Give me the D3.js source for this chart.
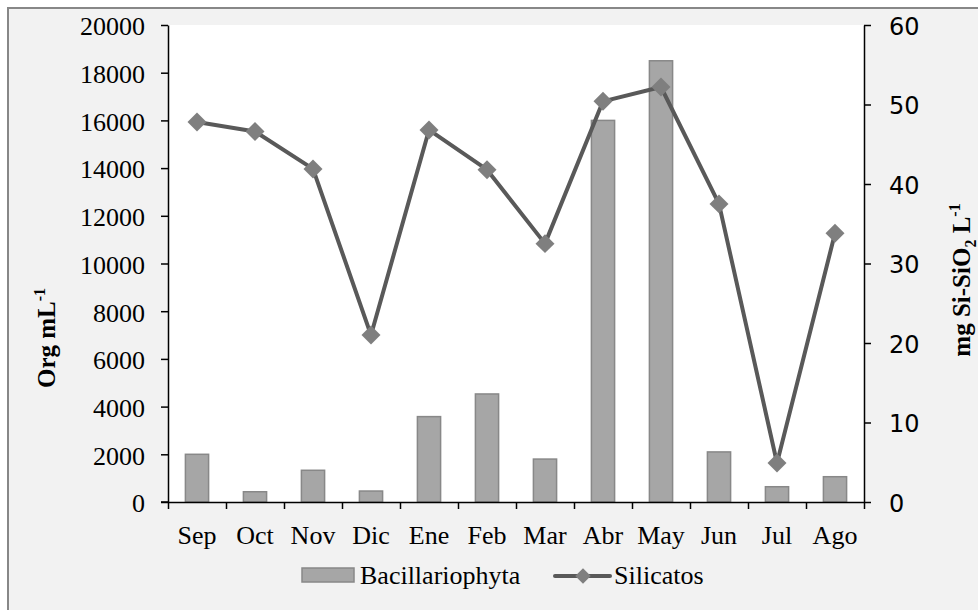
<!DOCTYPE html>
<html>
<head>
<meta charset="utf-8">
<script src="https://cdn.jsdelivr.net/npm/d3@7"></script>
<style>
  body { margin: 0; background: #fff; }
  svg { display: block; }
</style>
</head>
<body>
<div id="chart"></div>
<script>
// Data
const months = ["Sep", "Oct", "Nov", "Dic", "Ene", "Feb", "Mar", "Abr", "May", "Jun", "Jul", "Ago"];
const bacillariophyta = [2000, 430, 1330, 460, 3580, 4530, 1800, 16000, 18500, 2100, 640, 1060];
const silicatos = [47.8, 46.6, 41.9, 21.0, 46.8, 41.8, 32.5, 50.4, 52.2, 37.5, 4.9, 33.8];
const leftTicks = [0, 2000, 4000, 6000, 8000, 10000, 12000, 14000, 16000, 18000, 20000];
const rightTicks = [0, 10, 20, 30, 40, 50, 60];

const W = 978, H = 610;
const plot = { left: 168, right: 864, top: 25, bottom: 502 };
const serif = "'Liberation Serif', 'Times New Roman', serif";
const sans = "'DejaVu Sans', Verdana, sans-serif";

const svg = d3.select("#chart").append("svg")
    .attr("width", W)
    .attr("height", H);

// Chart area background + border
svg.append("rect")
    .attr("x", 8).attr("y", 8)
    .attr("width", W + 20).attr("height", H + 20)
    .attr("fill", "#f2f2f2")
    .attr("stroke", "#878787")
    .attr("stroke-width", 2);

// Plot area
svg.append("rect")
    .attr("x", plot.left).attr("y", plot.top)
    .attr("width", plot.right - plot.left)
    .attr("height", plot.bottom - plot.top)
    .attr("fill", "#fff");

// Scales
const x = d3.scaleBand()
    .domain(months)
    .range([plot.left, plot.right]);

const xTicks = d3.scaleLinear()
    .domain([0, months.length])
    .range([plot.left, plot.right]);

const yLeft = d3.scaleLinear()
    .domain([0, 20000])
    .range([plot.bottom, plot.top]);

const yRight = d3.scaleLinear()
    .domain([0, 60])
    .range([plot.bottom, plot.top]);

const barW = x.bandwidth() * 0.4;

// Bars
svg.selectAll(".bar")
    .data(months)
    .enter().append("rect")
    .attr("class", "bar")
    .attr("x", (d, i) => x(d) + x.bandwidth() / 2 - barW / 2)
    .attr("y", (d, i) => yLeft(bacillariophyta[i]))
    .attr("width", barW)
    .attr("height", (d, i) => plot.bottom - yLeft(bacillariophyta[i]))
    .attr("fill", "#a6a6a6")
    .attr("stroke", "#888")
    .attr("stroke-width", 1.5);

// Silicatos line
const line = d3.line()
    .x((d, i) => x(months[i]) + x.bandwidth() / 2)
    .y(d => yRight(d));

svg.append("path")
    .datum(silicatos)
    .attr("d", line)
    .attr("fill", "none")
    .attr("stroke", "#595959")
    .attr("stroke-width", 4)
    .attr("stroke-linejoin", "round");

const diamond = d3.symbol().type(d3.symbolSquare).size(180);

svg.selectAll(".marker")
    .data(silicatos)
    .enter().append("path")
    .attr("class", "marker")
    .attr("d", diamond)
    .attr("transform", (d, i) => `translate(${x(months[i]) + x.bandwidth() / 2},${yRight(d)}) rotate(45)`)
    .attr("fill", "#7f7f7f");

// Left axis
const gLeft = svg.append("g")
    .attr("transform", `translate(${plot.left},0)`)
    .call(d3.axisLeft(yLeft).tickValues(leftTicks).tickFormat(d3.format("d"))
        .tickSize(7).tickSizeOuter(0).tickPadding(16));

// Right axis
const gRight = svg.append("g")
    .attr("transform", `translate(${plot.right},0)`)
    .call(d3.axisRight(yRight).tickValues(rightTicks).tickFormat(d3.format("d"))
        .tickSize(7).tickSizeOuter(0).tickPadding(18));

// X axis (ticks between categories)
const gX = svg.append("g")
    .attr("transform", `translate(0,${plot.bottom})`)
    .call(d3.axisBottom(xTicks).ticks(months.length).tickSize(7).tickSizeOuter(0).tickFormat(""));

[gLeft, gRight, gX].forEach(g => {
    g.select(".domain").attr("stroke", "#000").attr("stroke-width", 1.5);
    g.selectAll(".tick line").attr("stroke", "#000").attr("stroke-width", 1.5);
});

gLeft.selectAll("text")
    .attr("font-family", serif)
    .attr("font-size", 26)
    .attr("fill", "#000")
    .attr("dy", "0.38em");

gRight.selectAll("text")
    .attr("font-family", sans)
    .attr("font-size", 24)
    .attr("fill", "#000")
    .attr("dy", "0.38em");

// little stub of x axis to the left of the y axis
svg.append("line")
    .attr("x1", plot.left - 7).attr("x2", plot.left)
    .attr("y1", plot.bottom).attr("y2", plot.bottom)
    .attr("stroke", "#000").attr("stroke-width", 1.5);

// Month labels
svg.selectAll(".month")
    .data(months)
    .enter().append("text")
    .attr("class", "month")
    .attr("x", d => x(d) + x.bandwidth() / 2)
    .attr("y", 544)
    .attr("text-anchor", "middle")
    .attr("font-family", serif)
    .attr("font-size", 26)
    .text(d => d);

// Axis titles
const leftTitle = svg.append("text")
    .attr("transform", "translate(55,338) rotate(-90)")
    .attr("text-anchor", "middle")
    .attr("font-family", serif)
    .attr("font-size", 25)
    .attr("font-weight", "bold");
leftTitle.append("tspan").text("Org mL");
leftTitle.append("tspan").attr("font-size", 16).attr("dy", -10).text("-1");

const rightTitle = svg.append("text")
    .attr("transform", "translate(970,280) rotate(-90)")
    .attr("text-anchor", "middle")
    .attr("font-family", serif)
    .attr("font-size", 25)
    .attr("font-weight", "bold");
rightTitle.append("tspan").text("mg Si-SiO");
rightTitle.append("tspan").attr("font-size", 16).attr("dy", 6).text("2");
rightTitle.append("tspan").attr("dy", -6).text(" L");
rightTitle.append("tspan").attr("font-size", 16).attr("dy", -10).text("-1");

// Legend
const legend = svg.append("g")
    .attr("font-family", serif)
    .attr("font-size", 26);
legend.append("rect")
    .attr("x", 302).attr("y", 568)
    .attr("width", 52).attr("height", 14)
    .attr("fill", "#a6a6a6")
    .attr("stroke", "#888")
    .attr("stroke-width", 1.5);
legend.append("text")
    .attr("x", 360).attr("y", 584)
    .text("Bacillariophyta");

legend.append("line")
    .attr("x1", 555).attr("x2", 610)
    .attr("y1", 576).attr("y2", 576)
    .attr("stroke", "#595959")
    .attr("stroke-width", 4)
    .attr("stroke-linecap", "round");
legend.append("path")
    .attr("d", d3.symbol().type(d3.symbolSquare).size(120))
    .attr("transform", "translate(583,576) rotate(45)")
    .attr("fill", "#7f7f7f");
legend.append("text")
    .attr("x", 614).attr("y", 584)
    .text("Silicatos");
</script>
</body>
</html>
